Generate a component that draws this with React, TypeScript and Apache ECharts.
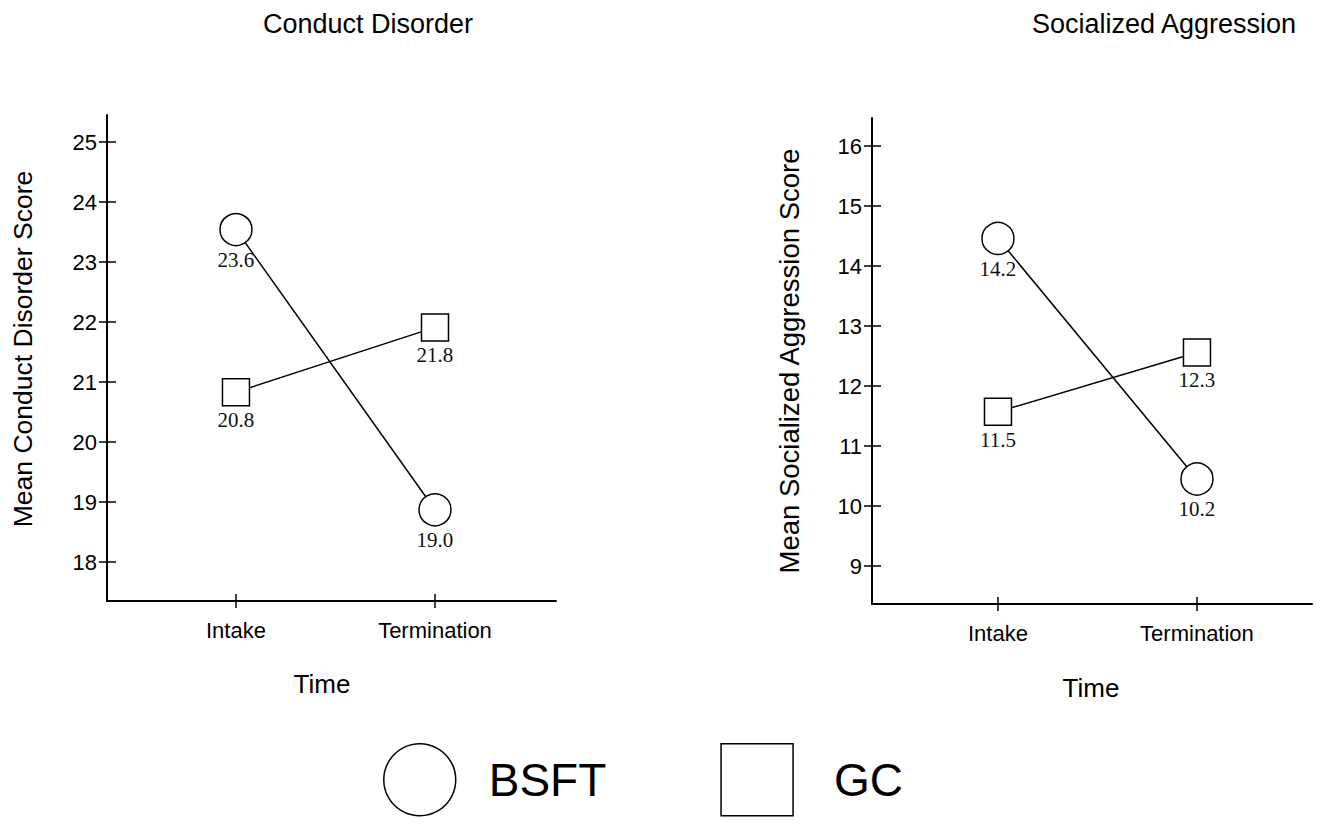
import React, { useEffect, useRef } from "react";
import * as echarts from "echarts";

// ---- data ----
const times = ["Intake", "Termination"];
const timePos = [0, 1];
const series = ["BSFT", "GC"];

const cdTicks = [18, 19, 20, 21, 22, 23, 24, 25];
const saTicks = [9, 10, 11, 12, 13, 14, 15, 16];

// plotted positions
const cdBsft = [23.54, 18.87];
const cdGc = [20.83, 21.91];
const saBsft = [14.46, 10.45];
const saGc = [11.57, 12.56];

// printed means
const cdBsftLabels = [23.6, 19.0];
const cdGcLabels = [20.8, 21.8];
const saBsftLabels = [14.2, 10.2];
const saGcLabels = [11.5, 12.3];

const SANS = "'Liberation Sans', Arial, Helvetica, sans-serif";
const SERIF = "'Liberation Serif', 'Times New Roman', serif";

function makeSeries(name: string, vals: number[], labels: number[], gi: number, symbol: string, size: number) {
  return {
    name,
    type: "line",
    xAxisIndex: gi * 2,
    yAxisIndex: gi * 2,
    data: timePos.map((t, i) => [t, vals[i]]),
    symbol,
    symbolSize: size,
    showAllSymbol: true,
    lineStyle: { color: "#000", width: 1.5 },
    itemStyle: { color: "#fff", borderColor: "#000", borderWidth: 1.5 },
    label: {
      show: true,
      position: "bottom",
      distance: 3,
      fontFamily: SERIF,
      fontSize: 21,
      color: "#111",
      formatter: (p: any) => labels[p.dataIndex].toFixed(1),
    },
    emphasis: { disabled: true },
  };
}

function xAxes(gi: number, min: number, max: number) {
  const base = {
    gridIndex: gi,
    type: "value",
    min,
    max,
    position: "bottom",
    splitLine: { show: false },
  };
  return [
    {
      ...base,
      axisLine: { show: true, onZero: false, lineStyle: { color: "#000", width: 2 } },
      axisTick: { show: true, length: 7, customValues: timePos, lineStyle: { color: "#000", width: 1.5 } },
      axisLabel: {
        show: true,
        customValues: timePos,
        formatter: (v: number) => times[Math.round(v)],
        margin: 18,
        fontFamily: SANS,
        fontSize: 22,
        color: "#000",
      },
    },
    {
      ...base,
      axisLine: { show: false, onZero: false },
      axisTick: { show: true, inside: true, length: 7, customValues: timePos, lineStyle: { color: "#000", width: 1.5 } },
      axisLabel: { show: false },
    },
  ];
}

function yAxes(gi: number, min: number, max: number, ticks: number[]) {
  const base = {
    gridIndex: gi,
    type: "value",
    min,
    max,
    position: "left",
    splitLine: { show: false },
  };
  return [
    {
      ...base,
      axisLine: { show: true, onZero: false, lineStyle: { color: "#000", width: 2 } },
      axisTick: { show: true, length: 8, customValues: ticks, lineStyle: { color: "#000", width: 1.5 } },
      axisLabel: {
        show: true,
        customValues: ticks,
        margin: 10,
        fontFamily: SANS,
        fontSize: 22,
        color: "#000",
      },
    },
    {
      ...base,
      axisLine: { show: false, onZero: false },
      axisTick: { show: true, inside: true, length: 9, customValues: ticks, lineStyle: { color: "#000", width: 1.5 } },
      axisLabel: { show: false },
    },
  ];
}

function txt(text: string, x: number, y: number, size: number, rotation = 0) {
  return {
    type: "text",
    x,
    y,
    rotation,
    silent: true,
    style: {
      text,
      fill: "#000",
      fontFamily: SANS,
      fontSize: size,
      align: "center",
      verticalAlign: "middle",
      textAlign: "center",
      textVerticalAlign: "middle",
    },
  };
}

export default function App() {
  const ref = useRef<HTMLDivElement>(null);
  useEffect(() => {
    if (!ref.current) return;
    const chart = echarts.init(ref.current, null, { renderer: "svg" });
    const legendText = { fontFamily: SANS, fontSize: 46, color: "#000" };
    const option: any = {
      animation: false,
      backgroundColor: "#fff",
      grid: [
        { left: 107, top: 115, width: 449, height: 486 },
        { left: 872, top: 118, width: 440, height: 486 },
      ],
      xAxis: [...xAxes(0, -0.648, 1.608), ...xAxes(1, -0.633, 1.578)],
      yAxis: [...yAxes(0, 17.35, 25.45, cdTicks), ...yAxes(1, 8.367, 16.467, saTicks)],
      legend: {
        left: 378,
        top: 738,
        itemWidth: 72,
        itemHeight: 72,
        itemGap: 114,
        selectedMode: false,
        data: [
          { name: series[0], icon: "circle", textStyle: { ...legendText, padding: [0, 0, 0, 28] } },
          { name: series[1], icon: "rect", textStyle: { ...legendText, padding: [0, 0, 0, 36] } },
        ],
        itemStyle: { color: "#fff", borderColor: "#000", borderWidth: 1.5 },
        textStyle: { ...legendText, padding: [0, 0, 0, 28] },
      },
      graphic: [
        txt("Conduct Disorder", 368, 24, 27),
        txt("Socialized Aggression", 1164, 24, 27),
        txt("Mean Conduct Disorder Score", 23, 349, 26.5, Math.PI / 2),
        txt("Mean Socialized Aggression Score", 789, 361, 27.5, Math.PI / 2),
        txt("Time", 322, 684, 26),
        txt("Time", 1091, 688, 26),
      ],
      series: [
        makeSeries(series[0], cdBsft, cdBsftLabels, 0, "circle", 32),
        makeSeries(series[1], cdGc, cdGcLabels, 0, "rect", 27),
        makeSeries(series[0], saBsft, saBsftLabels, 1, "circle", 32),
        makeSeries(series[1], saGc, saGcLabels, 1, "rect", 27),
      ],
    };
    chart.setOption(option);
    return () => chart.dispose();
  }, []);
  return (
    <div
      ref={ref}
      style={{ position: "absolute", left: 0, top: 0, width: 1323, height: 829, background: "#fff" }}
    />
  );
}
